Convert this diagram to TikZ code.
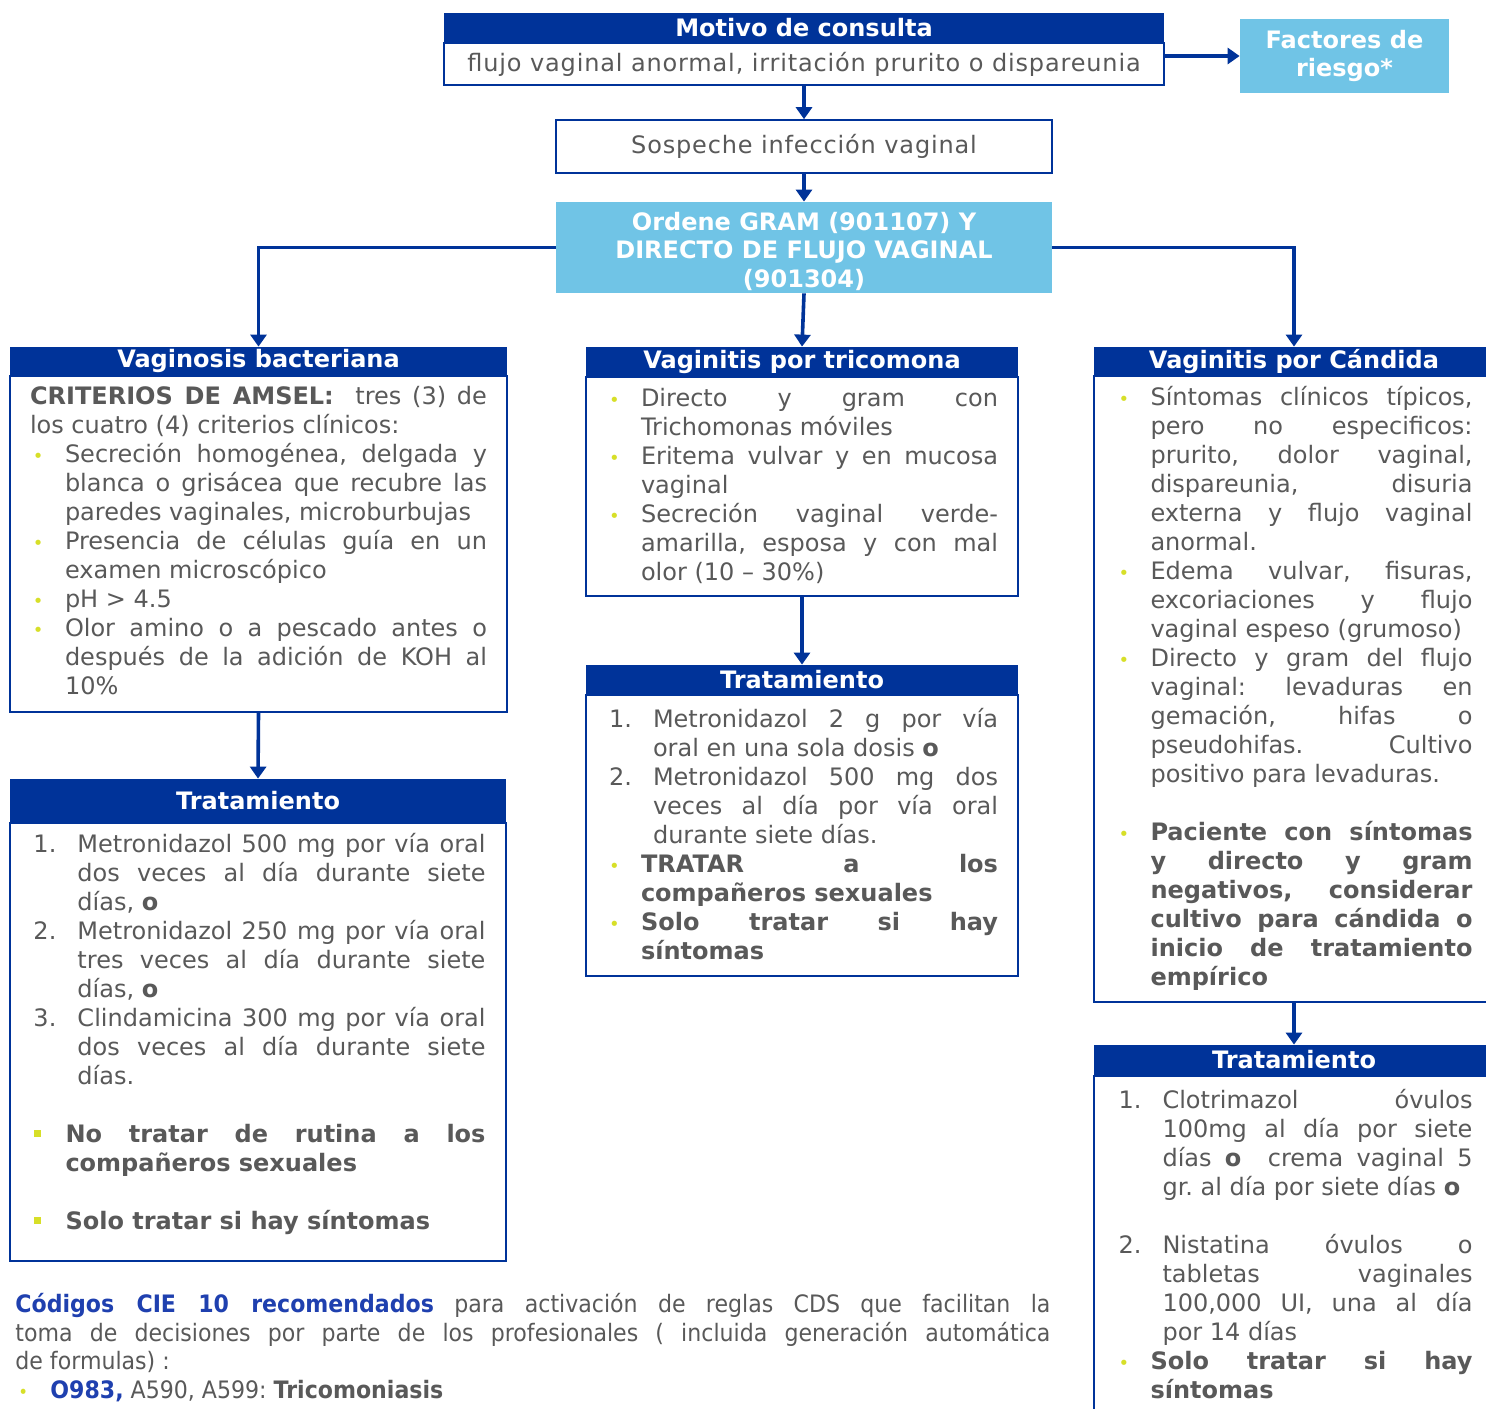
\documentclass[tikz,border=0pt]{standalone}
\usepackage{fontspec}
\setmainfont{DejaVu Sans}
\newfontfamily\spacedfont{DejaVu Sans}[LetterSpace=3.5]
\newfontfamily\footfont{DejaVu Sans}[FakeStretch=0.92]
\usepackage{xcolor}
\usepackage{tikz}
\usetikzlibrary{positioning,arrows.meta}

\definecolor{hdblue}{RGB}{0,51,153}
\definecolor{ltblue}{RGB}{112,196,230}
\definecolor{txtgray}{RGB}{89,89,89}
\definecolor{bulc}{RGB}{215,223,40}
\definecolor{codeblue}{RGB}{31,64,175}

\frenchspacing
\tolerance=9999
\hbadness=10000

\newcommand{\dotb}{\textcolor{bulc}{\fontsize{9}{9}\selectfont\textbullet}}
\newcommand{\sqb}{\textcolor{bulc}{\rule[3pt]{3.5pt}{3.5pt}}}
\newcommand{\emptyrow}{\par\vspace{14.5pt}}
\newcommand{\liftup}[1]{\par\vspace*{#1}}

\newenvironment{blist}[1][\dotb]{%
  \begin{list}{#1}{\setlength{\leftmargin}{17.5pt}\setlength{\labelwidth}{16pt}%
    \setlength{\labelsep}{1.5pt}\setlength{\itemsep}{0pt}\setlength{\parsep}{0pt}%
    \setlength{\topsep}{0pt}\setlength{\partopsep}{0pt}%
    \renewcommand{\makelabel}[1]{\hspace{1.5pt}##1\hfil}}}{\end{list}}
\newenvironment{nlist}{%
  \begin{list}{\arabic{enumi}.}{\usecounter{enumi}\setlength{\leftmargin}{23.5pt}%
    \setlength{\labelwidth}{22pt}\setlength{\labelsep}{1.5pt}\setlength{\itemsep}{0pt}%
    \setlength{\parsep}{0pt}\setlength{\topsep}{0pt}\setlength{\partopsep}{0pt}%
    \renewcommand{\makelabel}[1]{\hspace{1.5pt}##1\hfil}}}{\end{list}}

\begin{document}
\begin{tikzpicture}[x=0.5pt,y=0.5pt,
hdr/.style={fill=hdblue,text=white,inner sep=0pt,font=\fontsize{12}{14.5}\selectfont\bfseries},
bodybox/.style={draw=hdblue,line width=0.8pt,fill=white,inner xsep=10pt,inner ysep=0pt,
    align=justify,text=txtgray,font=\fontsize{12}{14.5}\selectfont},
lightbox/.style={fill=ltblue,text=white,align=center,inner sep=0pt,font=\fontsize{12}{14.3}\selectfont\bfseries},
link/.style={draw=hdblue,line width=1.8pt,-{Triangle[length=6pt,width=8pt]}}]
\useasboundingbox (0,0) rectangle (1486,-1408);
\fill [white] (0,0) rectangle (1486,-1408);

\node (motivo) [hdr,minimum width=360pt,minimum height=14.5pt] at (804,-27.5) {Motivo de consulta};
\node (motbody) [bodybox,below=0pt of motivo,minimum width=360pt,minimum height=21pt,align=center]
    {\spacedfont flujo vaginal anormal, irritación prurito o dispareunia};
\node (factores) [lightbox,minimum width=104.5pt,minimum height=37pt] at (1344.5,-56) {Factores de\\riesgo*};
\node (sospeche) [bodybox,minimum width=248pt,minimum height=26.5pt,align=center] at (804,-146.5)
    {\spacedfont Sospeche infección vaginal};
\node (ordene) [lightbox,minimum width=248pt,minimum height=45.5pt] at (804,-247.5)
    {\rule{0pt}{13pt}Ordene GRAM (901107) Y\\DIRECTO DE FLUJO VAGINAL\\(901304)};

% vaginosis bacteriana
\node (vbhead) [hdr,minimum width=248.5pt,minimum height=14pt] at (258.5,-361) {Vaginosis bacteriana};
\node (vbbody) [bodybox,below=0pt of vbhead,text width=228.5pt,minimum height=168pt] {%
{\bfseries CRITERIOS DE AMSEL:}~ tres (3) de\linebreak los cuatro (4) criterios clínicos:
\begin{blist}
\item Secreción homogénea, delgada y\linebreak blanca o grisácea que recubre las\linebreak paredes vaginales, microburbujas
\item Presencia de células guía en un\linebreak examen microscópico
\item pH > 4.5
\item Olor amino o a pescado antes o\linebreak después de la adición de KOH al\linebreak 10\%
\end{blist}\liftup{4pt}};
\node (tlhead) [hdr,minimum width=248pt,minimum height=21.5pt] at (258,-800.5) {Tratamiento};
\node (tlbody) [bodybox,below=0pt of tlhead,text width=227.5pt,inner xsep=10.25pt,minimum height=219pt] {%
\begin{nlist}
\item Metronidazol 500 mg por vía oral\linebreak dos veces al día durante siete\linebreak días, \textbf{o}
\item Metronidazol 250 mg por vía oral\linebreak tres veces al día durante siete\linebreak días, \textbf{o}
\item Clindamicina 300 mg por vía oral\linebreak dos veces al día durante siete\linebreak días.\emptyrow
\end{nlist}
\begin{blist}[\sqb]
\item \textbf{No tratar de rutina a los\linebreak compañeros sexuales}\emptyrow
\item \textbf{Solo tratar si hay síntomas}
\end{blist}\liftup{13pt}};

% tricomona
\node (trhead) [hdr,minimum width=216pt,minimum height=14.5pt] at (802,-361.5) {Vaginitis por tricomona};
\node (trbody) [bodybox,below=0pt of trhead,text width=196pt,minimum height=109.5pt] {%
\begin{blist}
\item Directo y gram con\linebreak Trichomonas móviles
\item Eritema vulvar y en mucosa\linebreak vaginal
\item Secreción vaginal verde-\linebreak amarilla, esposa y con mal\linebreak olor (10 – 30\%)
\end{blist}\liftup{6pt}};
\node (tmhead) [hdr,minimum width=216pt,minimum height=14.5pt] at (802,-679.5) {Tratamiento};
\node (tmbody) [bodybox,below=0pt of tmhead,text width=196pt,minimum height=140.5pt] {%
\begin{nlist}
\item Metronidazol 2 g por vía\linebreak oral en una sola dosis \textbf{o}
\item Metronidazol 500 mg dos\linebreak veces al día por vía oral\linebreak durante siete días.
\end{nlist}
\begin{blist}
\item \textbf{TRATAR a los\linebreak compañeros sexuales}
\item \textbf{Solo tratar si hay\linebreak síntomas}
\end{blist}\liftup{7pt}};

% candida
\node (cahead) [hdr,minimum width=200pt,minimum height=14pt] at (1294,-361) {Vaginitis por Cándida};
\node (cabody) [bodybox,below=0pt of cahead,text width=178.5pt,inner xsep=10.75pt,minimum height=313pt] {%
\begin{blist}
\item Síntomas clínicos típicos,\linebreak pero no especificos:\linebreak prurito, dolor vaginal,\linebreak dispareunia, disuria\linebreak externa y flujo vaginal\linebreak anormal.
\item Edema vulvar, fisuras,\linebreak excoriaciones y flujo\linebreak vaginal espeso (grumoso)
\item Directo y gram del flujo\linebreak vaginal: levaduras en\linebreak gemación, hifas o\linebreak pseudohifas. Cultivo\linebreak positivo para levaduras.\emptyrow
\item \textbf{Paciente con síntomas\linebreak y directo y gram\linebreak negativos, considerar\linebreak cultivo para cándida o\linebreak inicio de tratamiento\linebreak empírico}
\end{blist}\liftup{6pt}};
\node (tchead) [hdr,minimum width=200pt,minimum height=15pt] at (1294,-1060) {Tratamiento};
\node (tcbody) [bodybox,below=0pt of tchead,text width=178.5pt,inner xsep=10.75pt,minimum height=177.5pt] {%
\begin{nlist}
\item Clotrimazol óvulos\linebreak 100mg al día por siete\linebreak días \textbf{o}~ crema vaginal 5\linebreak gr. al día por siete días \textbf{o}\emptyrow
\item Nistatina óvulos o\linebreak tabletas vaginales\linebreak 100,000 UI, una al día\linebreak por 14 días
\end{nlist}
\begin{blist}
\item \textbf{Solo tratar si hay\linebreak síntomas}
\end{blist}\liftup{15pt}};

\node (codigos) [anchor=north west,text width=517.5pt,align=justify,inner sep=0pt,text=txtgray,
    font=\footfont\fontsize{12}{14.25}\selectfont] at (15,-1293) {%
\textcolor{codeblue}{\textbf{Códigos CIE 10 recomendados}} para activación de reglas CDS que facilitan la\linebreak toma de decisiones por parte de los profesionales ( incluida generación automática\linebreak de formulas) :
\begin{blist}
\item \textcolor{codeblue}{\textbf{O983,}} A590, A599: \textbf{Tricomoniasis}
\end{blist}};

\draw [link] (factores.west -| motbody.east) -- (factores.west);
\draw [link] (motbody.south) -- (sospeche.north);
\draw [link] (sospeche.south) -- (ordene.north);
\draw [link] (ordene.west) -| (vbhead.north);
\draw [link] (ordene.south) -- (trhead.north);
\draw [link] (ordene.east) -| (cahead.north);
\draw [link] (vbbody.south) -- (tlhead.north);
\draw [link] (trbody.south) -- (tmhead.north);
\draw [link] (cabody.south) -- (tchead.north);
\end{tikzpicture}
\end{document}
